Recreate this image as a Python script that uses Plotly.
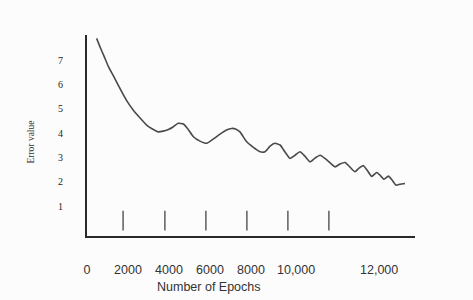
import plotly.graph_objects as go

# Error curve
epochs = [470, 630, 830, 1040, 1370, 1690, 1950, 2260, 2590, 2910, 3170, 3480, 3710,
          3970, 4200, 4450, 4700, 4930, 5190, 5510, 5840, 6150, 6490, 6780, 7060, 7270,
          7460, 7790, 8100, 8440, 8680, 8930, 9170, 9420, 9660, 9900, 10150, 10390,
          10630, 10880, 11120, 11370, 11710, 12100, 12340, 12590, 12830, 13070, 13270,
          13480, 13660, 13890, 14130, 14290, 14490, 14700, 14880, 15070, 15270, 15510]
error_vals = [7.89, 7.55, 7.16, 6.74, 6.22, 5.70, 5.31, 4.94, 4.62, 4.33, 4.18, 4.05, 4.08,
              4.15, 4.25, 4.40, 4.37, 4.16, 3.85, 3.67, 3.58, 3.75, 3.96, 4.12, 4.19, 4.16,
              4.05, 3.64, 3.42, 3.23, 3.23, 3.46, 3.58, 3.51, 3.22, 2.96, 3.09, 3.23,
              3.05, 2.82, 2.97, 3.09, 2.89, 2.61, 2.73, 2.79, 2.60, 2.41, 2.56,
              2.66, 2.48, 2.22, 2.38, 2.27, 2.10, 2.23, 2.07, 1.86, 1.90, 1.93]

# small vertical marks above the x axis
mark_epochs = [1760, 3800, 5800, 7800, 9800, 11800]
mark_level = [0.40, 0.40, 0.40, 0.40, 0.40, 0.40]

# axis labels
x_tick_pos = [0, 2000, 4000, 6000, 8000, 10200, 14250]
x_tick_text = ["0", "2000", "4000", "6000", "8000", "10,000", "12,000"]
y_tick_vals = [1, 2, 3, 4, 5, 6, 7]
y_tick_text = ["1", "2", "3", "4", "5", "6", "7"]

fig = go.Figure()
fig.add_trace(go.Scatter(
    x=epochs, y=error_vals, mode="lines",
    line=dict(color="#4a4a4a", width=1.6, shape="spline", smoothing=0.5),
    hoverinfo="skip", showlegend=False))
fig.add_trace(go.Scatter(
    x=mark_epochs, y=mark_level, mode="markers",
    marker=dict(symbol="line-ns", size=14, line=dict(color="#444", width=1.3)),
    hoverinfo="skip", showlegend=False))

fig.update_layout(
    width=473, height=300,
    margin=dict(l=87, r=58, t=35, b=64),
    paper_bgcolor="#fcfcfc", plot_bgcolor="#fcfcfc",
    xaxis=dict(range=[0, 16000], showgrid=False, zeroline=False,
               showline=True, linecolor="#2a2a2a", linewidth=2,
               tickmode="array", tickvals=x_tick_pos, ticktext=x_tick_text,
               ticks="", ticklabelstandoff=21,
               tickfont=dict(family="Liberation Sans", size=12.5, color="#333")),
    yaxis=dict(range=[-0.23, 8.03], showgrid=False, zeroline=False,
               showline=True, linecolor="#2a2a2a", linewidth=2,
               tickmode="array", tickvals=y_tick_vals, ticktext=y_tick_text,
               ticks="", ticklabelstandoff=20,
               tickfont=dict(family="Liberation Serif", size=10, color="#222")),
    annotations=[
        dict(text="Number of Epochs", xref="paper", yref="paper", x=0.372, y=-0.255,
             showarrow=False, xanchor="center", yanchor="middle",
             font=dict(family="Liberation Sans", size=12.5, color="#333")),
        dict(text="Error value", xref="paper", yref="paper", x=-0.172, y=0.468,
             showarrow=False, xanchor="center", yanchor="middle", textangle=-90,
             font=dict(family="Liberation Serif", size=9.5, color="#333")),
    ],
)

fig.write_html("out.html")
